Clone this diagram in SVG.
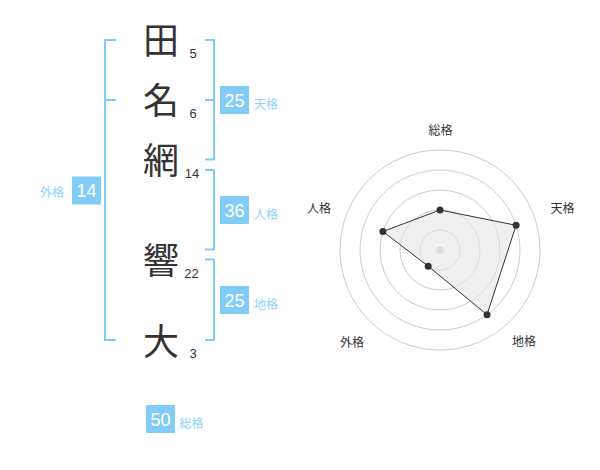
<svg xmlns="http://www.w3.org/2000/svg" width="600" height="470" viewBox="0 0 600 470">
<style>
.ch{font-family:"Noto Sans CJK JP","Liberation Sans",sans-serif;font-size:36px;fill:#333;text-anchor:middle}
.num{font-family:"Liberation Sans","Noto Sans CJK JP",sans-serif;font-size:13px;fill:#333;text-anchor:middle}
.br{fill:none;stroke:#82cdf8;stroke-width:2}
.box{fill:#82cdf8}
.bn{font-family:"Liberation Sans","Noto Sans CJK JP",sans-serif;font-size:18px;fill:#fff;text-anchor:middle}
.lb{font-family:"Noto Sans CJK JP","Liberation Sans",sans-serif;font-size:12px;fill:#8fd3f8}
.ring{fill:none;stroke:#cccccc;stroke-width:1}
.rl{font-family:"Noto Sans CJK JP","Liberation Sans",sans-serif;font-size:12px;fill:#333;text-anchor:middle}
.dot{fill:#333}
</style>
<rect width="600" height="470" fill="#fff"/>
<g id="names">
<g id="c1"><text class="ch" x="161" y="54">田</text><text class="num" x="193" y="57.5">5</text></g>
<g id="c2"><text class="ch" x="161" y="114">名</text><text class="num" x="193" y="117.5">6</text></g>
<g id="c3"><text class="ch" x="161" y="174">網</text><text class="num" x="192" y="177.5">14</text></g>
<g id="c4"><text class="ch" x="161" y="274">響</text><text class="num" x="191.5" y="278">22</text></g>
<g id="c5"><text class="ch" x="161" y="355">大</text><text class="num" x="193" y="358">3</text></g>
</g>
<g id="connectors">
<path class="br" d="M116,40 H105 V340 H116 M105,100 H116"/>
<path class="br" d="M205,40 H214 V159.5 H205 M214,100 H205"/>
<path class="br" d="M205,170 H214 V249.5 H205"/>
<path class="br" d="M205,259.5 H214 V340 H205"/>
</g>
<g id="tenkaku"><rect class="box" x="220" y="86" width="29" height="28"/><text class="bn" x="234.5" y="106.5">25</text><text class="lb" x="254" y="108.5">天格</text></g>
<g id="jinkaku"><rect class="box" x="220" y="196" width="29" height="28"/><text class="bn" x="234.5" y="216.5">36</text><text class="lb" x="254" y="218.5">人格</text></g>
<g id="chikaku"><rect class="box" x="220" y="286" width="29" height="28"/><text class="bn" x="234.5" y="306.5">25</text><text class="lb" x="254" y="308.5">地格</text></g>
<g id="gaikaku"><rect class="box" x="72" y="176.5" width="29" height="28"/><text class="bn" x="86.5" y="197">14</text><text class="lb" x="40" y="197">外格</text></g>
<g id="soukaku"><rect class="box" x="146" y="405" width="29" height="28"/><text class="bn" x="160.5" y="425.5">50</text><text class="lb" x="179.5" y="427.5">総格</text></g>
<g id="radar">
<circle class="ring" cx="440" cy="250" r="100"/>
<circle class="ring" cx="440" cy="250" r="80"/>
<circle class="ring" cx="440" cy="250" r="60"/>
<circle class="ring" cx="440" cy="250" r="40"/>
<circle class="ring" cx="440" cy="250" r="20"/>
<circle cx="440" cy="250" r="3.5" fill="#cccccc"/>
<polygon points="440,210 516.1,225.3 487,314.7 428.2,266.2 382.9,231.5" fill="#e6e6e6" fill-opacity="0.6" stroke="#333" stroke-width="1"/>
<circle class="dot" cx="440" cy="210" r="3.5"/>
<circle class="dot" cx="516.1" cy="225.3" r="3.5"/>
<circle class="dot" cx="487" cy="314.7" r="3.5"/>
<circle class="dot" cx="428.2" cy="266.2" r="3.5"/>
<circle class="dot" cx="382.9" cy="231.5" r="3.5"/>
<text class="rl" x="440.5" y="135">総格</text>
<text class="rl" x="562.5" y="212.5">天格</text>
<text class="rl" x="524" y="346">地格</text>
<text class="rl" x="352" y="346.5">外格</text>
<text class="rl" x="319" y="212.5">人格</text>
</g>
</svg>
